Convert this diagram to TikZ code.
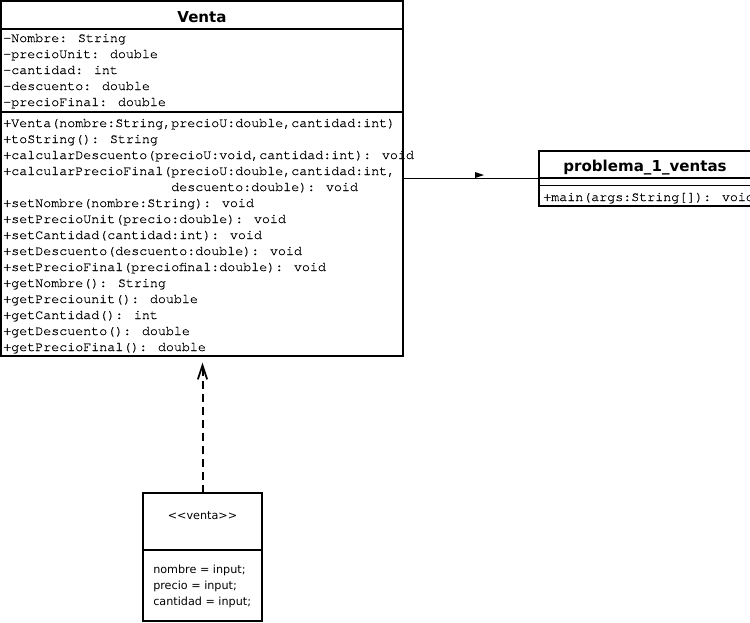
\documentclass[tikz,border=0pt]{standalone}
\usepackage{fontspec}
\setmainfont{DejaVu Sans}
\newfontfamily\monof[FakeBold=0.7]{TeX Gyre Cursor}
\usetikzlibrary{arrows.meta,fit}
\begin{document}
\begin{tikzpicture}[x=0.75pt,y=-0.75pt,
  box/.style={draw=black,line width=1.4pt,inner sep=0pt,outer sep=0pt},
  sep/.style={line width=1.1pt},
  mono/.style={font=\monof\fontsize{10}{12}\selectfont,anchor=base west,inner sep=0pt},
  ttl/.style={font=\bfseries\fontsize{11.3}{13}\selectfont,anchor=base,inner sep=0pt},
  note/.style={font=\fontsize{8.4}{10}\selectfont,anchor=base west,inner sep=0pt},
  conn/.style={line width=1.1pt},
  dep/.style={line width=1.5pt,dash pattern=on 6pt off 3.75pt,
    -{Straight Barb[length=10.5pt,width=7pt,line width=1.3pt]},shorten >=5pt}]
\useasboundingbox (0,0) rectangle (750,622);

% Venta class
\path (1,1) coordinate (vnw) (403,356) coordinate (vse);
\node[box,fit=(vnw)(vse)] (venta) {};
\draw[sep] (1,29) -- (403,29);
\draw[sep] (1,112) -- (403,112);
\node[ttl] (vtitle) at (202,22) {Venta};
\foreach \t [count=\i] in {{-Nombre: String},{-precioUnit: double},{-cantidad: int},{-descuento: double},{-precioFinal: double}}
  \node[mono] (va\i) at (3,{42+16*(\i-1)}) {\t};
\foreach \t [count=\i] in {{+Venta(nombre:String,precioU:double,cantidad:int)},{+toString(): String},{+calcularDescuento(precioU:void,cantidad:int): void},{+calcularPrecioFinal(precioU:double,cantidad:int,},{\hphantom{+calcularPrecioFinal(}descuento:double): void},{+setNombre(nombre:String): void},{+setPrecioUnit(precio:double): void},{+setCantidad(cantidad:int): void},{+setDescuento(descuento:double): void},{+setPrecioFinal(preciofinal:double): void},{+getNombre(): String},{+getPreciounit(): double},{+getCantidad(): int},{+getDescuento(): double},{+getPrecioFinal(): double}}
  \node[mono] (vm\i) at (3,{127+16*(\i-1)}) {\t};

% problema_1_ventas class
\path (539,151) coordinate (pnw) (751,206) coordinate (pse);
\node[box,fit=(pnw)(pse)] (prob) {};
\draw[sep] (539,178) -- (751,178);
\draw[sep] (539,185.5) -- (751,185.5);
\node[ttl] (ptitle) at (645,171.5) {problema\_1\_ventas};
\node[mono] (pm1) at (543,201) {+main(args:String[]): void};

% connector Venta -> problema_1_ventas
\draw[conn] (venta.east |- prob.west) -- (prob.west);
\fill (475,172) -- (475,178) -- (484,175) -- cycle;

% note box
\path (143,493) coordinate (nnw) (262,621) coordinate (nse);
\node[box,fit=(nnw)(nse)] (small) {};
\draw[sep] (143,550) -- (262,550);
\node[note,anchor=base] (st) at (202.5,519) {{<}{<}venta{>}{>}};
\node[note] (n1) at (153,573) {nombre = input;};
\node[note] (n2) at (153,589) {precio = input;};
\node[note] (n3) at (153,605) {cantidad = input;};

% dependency
\draw[dep] (small.north) -- (small.north |- venta.south);
\end{tikzpicture}
\end{document}
